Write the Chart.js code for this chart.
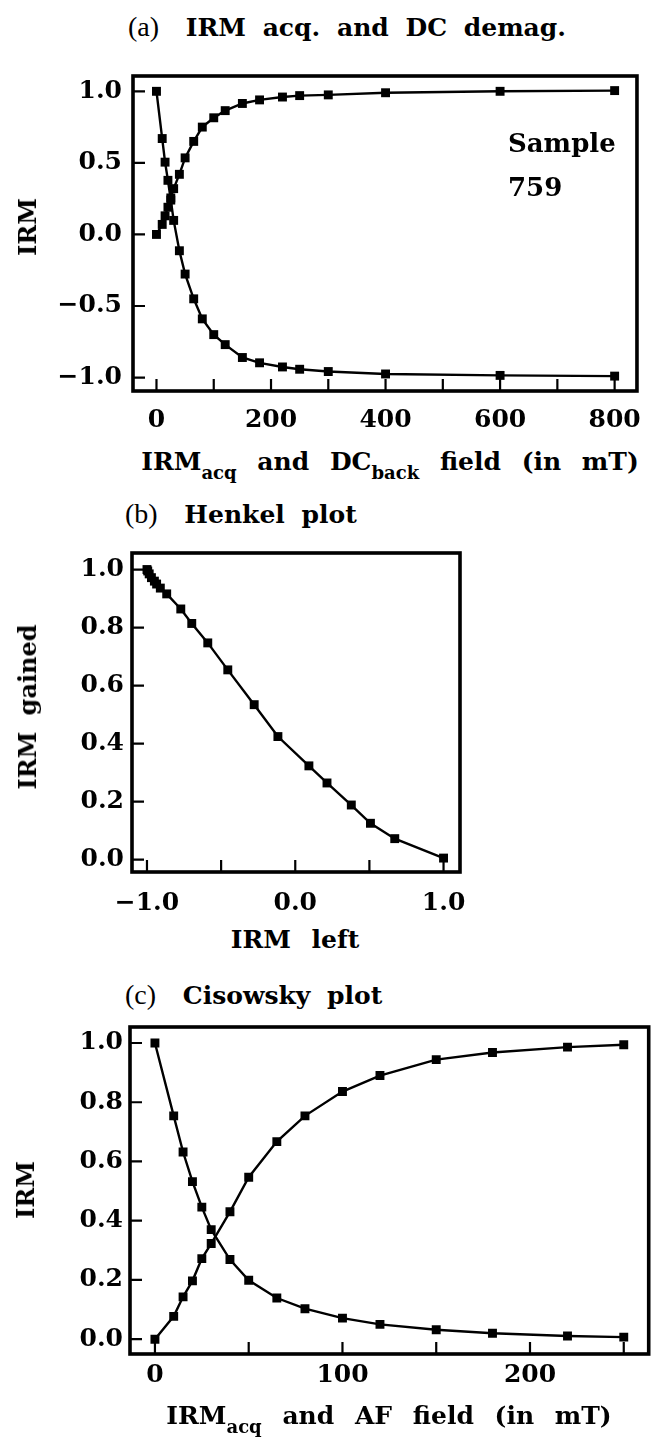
<!DOCTYPE html>
<html>
<head>
<meta charset="utf-8">
<script src="https://cdn.jsdelivr.net/npm/chart.js@4"></script>
<style>
  body { margin: 0; background: #fff; }
  #page { position: relative; width: 655px; height: 1441px; overflow: hidden; color: #000;
          font-family: "DejaVu Serif", serif; font-weight: bold; }
  canvas { position: absolute; left: 0; }
  .ttl { position: absolute; font-size: 25px; white-space: nowrap; line-height: 1; word-spacing: 8px;
         transform: translateY(-50%); }
  .ttl .tag { font-family: "Liberation Serif", serif; font-weight: normal; font-size: 28px; word-spacing: 0;
              margin-right: 10px; }
  .ytl { position: absolute; font-size: 24px; white-space: nowrap; line-height: 1; word-spacing: 8px;
         transform: translate(-50%, -50%) rotate(-90deg); }
  .xtl { position: absolute; font-size: 25px; white-space: nowrap; line-height: 1; word-spacing: 12px;
         transform: translate(-50%, -50%); }
  .xtl sub { font-size: 18px; vertical-align: -9px; line-height: 0; word-spacing: 0; }
  .note { position: absolute; font-size: 26px; line-height: 44px; white-space: nowrap; }
</style>
</head>
<body>
<div id="page">
  <div class="ttl" style="left:128px; top:27px;"><span class="tag">(a)</span> IRM acq. and DC demag.</div>
  <canvas id="chartA" width="655" height="395" style="top:50px; width:655px; height:395px;"></canvas>
  <div class="note" style="left:508px; top:121px;">Sample<br>759</div>
  <div class="ytl" style="left:28px; top:227px;">IRM</div>
  <div class="xtl" style="left:390px; top:461px;">IRM<sub>acq</sub> and DC<sub>back</sub> field (in mT)</div>

  <div class="ttl" style="left:125px; top:514px;"><span class="tag">(b)</span> Henkel plot</div>
  <canvas id="chartB" width="655" height="390" style="top:530px; width:655px; height:390px;"></canvas>
  <div class="ytl" style="left:28px; top:707px;">IRM gained</div>
  <div class="xtl" style="left:295px; top:939px;">IRM left</div>

  <div class="ttl" style="left:125px; top:995px;"><span class="tag">(c)</span> Cisowsky plot</div>
  <canvas id="chartC" width="655" height="400" style="top:1005px; width:655px; height:400px;"></canvas>
  <div class="ytl" style="left:26px; top:1190px;">IRM</div>
  <div class="xtl" style="left:389px; top:1415px;">IRM<sub>acq</sub> and AF field (in mT)</div>
</div>
<script>
// (a) IRM acquisition and DC back-field demagnetisation, field in mT
const fieldA = [0, 10, 15, 20, 25, 30, 40, 50, 65, 80, 100, 120, 150, 180, 220, 250, 300, 400, 600, 800];
const irmAcqA = [0, 0.07, 0.13, 0.19, 0.255, 0.32, 0.42, 0.535, 0.65, 0.75, 0.815, 0.865, 0.915, 0.94, 0.96, 0.97, 0.975, 0.99, 1.0, 1.005];
const dcBackA = [1.0, 0.67, 0.505, 0.378, 0.24, 0.098, -0.114, -0.277, -0.45, -0.59, -0.70, -0.77, -0.86, -0.897, -0.926, -0.942, -0.958, -0.975, -0.985, -0.99];

// (b) Henkel plot
const henkelLeft = [1.0, 0.671, 0.507, 0.378, 0.214, 0.092, -0.117, -0.277, -0.455, -0.59, -0.698, -0.772, -0.867, -0.91, -0.935, -0.95, -0.97, -0.985, -0.995, -1.0];
const henkelGained = [0.005, 0.072, 0.125, 0.188, 0.264, 0.323, 0.424, 0.534, 0.654, 0.747, 0.814, 0.864, 0.916, 0.936, 0.95, 0.96, 0.972, 0.985, 0.995, 1.0];

// (c) Cisowsky plot
const fieldC = [0, 10, 15, 20, 25, 30, 40, 50, 65, 80, 100, 120, 150, 180, 220, 250];
const irmAcqC = [0, 0.077, 0.143, 0.197, 0.272, 0.323, 0.43, 0.547, 0.667, 0.754, 0.836, 0.89, 0.944, 0.968, 0.986, 0.994];
const afDemagC = [1.0, 0.754, 0.632, 0.532, 0.446, 0.37, 0.269, 0.199, 0.139, 0.103, 0.071, 0.05, 0.032, 0.02, 0.011, 0.007];

// ticks (all drawn as inward marks) and which of them get a label
const ticksAx = [0, 100, 200, 300, 400, 500, 600, 700, 800];
const labelsAx = [0, 200, 400, 600, 800];
const ticksAy = [-1, -0.5, 0, 0.5, 1];
const ticksBx = [-1, -0.5, 0, 0.5, 1];
const labelsBx = [-1, 0, 1];
const ticksBy = [0, 0.2, 0.4, 0.6, 0.8, 1];
const ticksCx = [0, 50, 100, 150, 200, 250];
const labelsCx = [0, 100, 200];
const ticksCy = [0, 0.2, 0.4, 0.6, 0.8, 1];

const tickFont = { family: "DejaVu Serif", weight: "bold", size: 25 };

function fmt1(v) {
  return v.toFixed(1).replace("-", "\u2212");
}

function pairs(xs, ys) {
  return xs.map((x, i) => ({ x: x, y: ys[i] }));
}

function series(points) {
  return {
    data: points,
    borderColor: "#000",
    borderWidth: 2.4,
    pointStyle: "rect",
    pointRadius: 6.3,
    pointBackgroundColor: "#000",
    pointBorderWidth: 0,
    tension: 0,
    fill: false,
  };
}

// thick box round the plot and short ticks pointing inwards
const framePlugin = {
  id: "frame",
  afterDraw(chart) {
    const ctx = chart.ctx;
    const a = chart.chartArea;
    const sx = chart.scales.x;
    const sy = chart.scales.y;
    ctx.save();
    ctx.strokeStyle = "#000";
    ctx.lineWidth = 2.2;
    ctx.beginPath();
    sx.ticks.forEach((t) => {
      const px = sx.getPixelForValue(t.value);
      ctx.moveTo(px, a.bottom);
      ctx.lineTo(px, a.bottom - 12);
    });
    sy.ticks.forEach((t) => {
      const py = sy.getPixelForValue(t.value);
      ctx.moveTo(a.left, py);
      ctx.lineTo(a.left + 12, py);
    });
    ctx.stroke();
    ctx.lineWidth = 3.6;
    ctx.strokeRect(a.left, a.top, a.right - a.left, a.bottom - a.top);
    ctx.restore();
  },
};

function makeChart(id, datasets, o) {
  return new Chart(document.getElementById(id), {
    type: "line",
    data: { datasets: datasets },
    plugins: [framePlugin],
    options: {
      responsive: false,
      animation: false,
      events: [],
      layout: { padding: { left: 0, top: o.padTop, right: o.padRight, bottom: 0 } },
      plugins: { legend: { display: false }, tooltip: { enabled: false } },
      scales: {
        x: {
          type: "linear",
          min: o.xMin,
          max: o.xMax,
          afterBuildTicks: (s) => { s.ticks = o.xTicks.map((v) => ({ value: v })); },
          afterFit: (s) => { s.height = o.xHeight; },
          grid: { display: false, drawTicks: false },
          border: { display: false },
          ticks: {
            color: "#000",
            font: tickFont,
            padding: o.xPad,
            autoSkip: false,
            maxRotation: 0,
            callback: (v) => (o.xLabels.includes(v) ? o.xFmt(v) : ""),
          },
        },
        y: {
          type: "linear",
          min: o.yMin,
          max: o.yMax,
          afterBuildTicks: (s) => { s.ticks = o.yTicks.map((v) => ({ value: v })); },
          afterFit: (s) => { s.width = o.yWidth; },
          grid: { display: false, drawTicks: false },
          border: { display: false },
          ticks: { color: "#000", font: tickFont, padding: o.yPad, callback: (v) => fmt1(v) },
        },
      },
    },
  });
}

makeChart("chartA", [series(pairs(fieldA, irmAcqA)), series(pairs(fieldA, dcBackA))], {
  xMin: -41, xMax: 839, yMin: -1.094, yMax: 1.107,
  xTicks: ticksAx, xLabels: labelsAx, xFmt: (v) => String(v), yTicks: ticksAy,
  padTop: 13, padRight: 5, yWidth: 133, xHeight: 54, xPad: 14, yPad: 11,
});

makeChart("chartB", [series(pairs(henkelLeft, henkelGained))], {
  xMin: -1.101, xMax: 1.111, yMin: -0.043, yMax: 1.057,
  xTicks: ticksBx, xLabels: labelsBx, xFmt: fmt1, yTicks: ticksBy,
  padTop: 13, padRight: 195, yWidth: 132, xHeight: 48, xPad: 16, yPad: 8,
});

makeChart("chartC", [series(pairs(fieldC, irmAcqC)), series(pairs(fieldC, afDemagC))], {
  xMin: -13.3, xMax: 263.3, yMin: -0.05, yMax: 1.054,
  xTicks: ticksCx, xLabels: labelsCx, xFmt: (v) => String(v), yTicks: ticksCy,
  padTop: 20, padRight: 5, yWidth: 130, xHeight: 51, xPad: 6, yPad: 7,
});
</script>
</body>
</html>
